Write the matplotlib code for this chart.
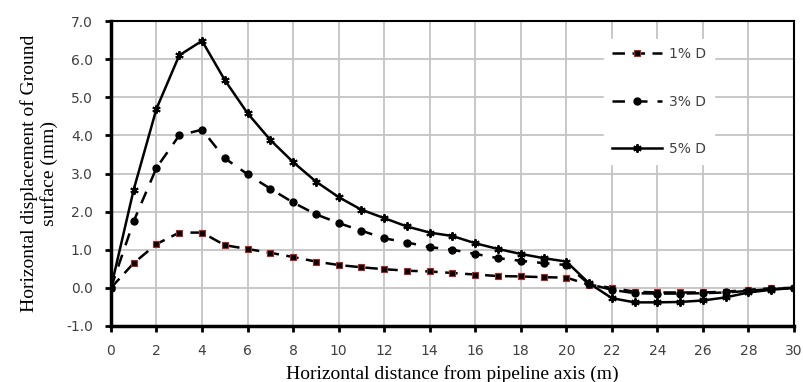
import numpy as np
import matplotlib.pyplot as plt

x = list(range(0, 31))
d1 = [0, 0.65, 1.15, 1.45, 1.45, 1.12, 1.02, 0.92, 0.81, 0.69, 0.60, 0.54, 0.49, 0.45, 0.43,
      0.39, 0.35, 0.31, 0.30, 0.28, 0.27, 0.08, 0.0, -0.10, -0.12, -0.12, -0.12, -0.10, -0.05,
      -0.01, 0.0]
d3 = [0, 1.75, 3.15, 4.0, 4.15, 3.4, 2.98, 2.6, 2.24, 1.93, 1.70, 1.50, 1.30, 1.19, 1.07,
      1.0, 0.89, 0.78, 0.71, 0.65, 0.60, 0.10, -0.05, -0.14, -0.15, -0.15, -0.14, -0.12, -0.08,
      -0.03, 0.0]
d5 = [0, 2.58, 4.7, 6.1, 6.48, 5.45, 4.58, 3.88, 3.3, 2.79, 2.38, 2.05, 1.83, 1.61, 1.45,
      1.36, 1.17, 1.02, 0.89, 0.78, 0.69, 0.12, -0.27, -0.38, -0.38, -0.37, -0.33, -0.25, -0.12,
      -0.05, 0.0]
labels = ["1% D", "3% D", "5% D"]

fig = plt.figure(figsize=(8.04, 3.82), dpi=100)
ax = fig.add_axes([0.138, 0.1466, 0.8496, 0.7984])

ax.plot(x, d1, color="black", lw=1.8, dashes=(5, 3), marker="s", ms=5,
        mfc="black", mec="#b22222", mew=0.8, label=labels[0])
ax.plot(x, d3, color="black", lw=1.8, dashes=(5, 4), marker="o", ms=5,
        mfc="black", mec="black", label=labels[1])
ax.plot(x, d5, color="black", lw=1.8, marker=(6, 2, 0), ms=6, mew=1.4,
        mfc="black", mec="black", label=labels[2])

ax.set_xlim(0, 30)
ax.set_ylim(-1, 7)
ax.set_xticks(np.arange(0, 31, 2))
ax.set_yticks(np.arange(-1, 7.1, 1))
ax.set_yticklabels(["%.1f" % v for v in np.arange(-1, 7.1, 1)])
ax.grid(True, color="#c4c4c4", lw=1.3)
ax.set_axisbelow(True)

for s in ["left", "bottom"]:
    ax.spines[s].set_linewidth(2.5)
for s in ["top", "right"]:
    ax.spines[s].set_linewidth(1.5)
ax.tick_params(axis="both", direction="out", length=4, width=2, labelsize=10,
               labelcolor="#404040", pad=9)

ax.set_xlabel("Horizontal distance from pipeline axis (m)", family="Liberation Serif",
              fontsize=14, labelpad=5)
ax.set_ylabel("Horizontal displacement of Ground\nsurface (mm)", family="Liberation Serif",
              fontsize=14, labelpad=6, linespacing=1.15)

leg = ax.legend(loc="upper left", bbox_to_anchor=(0.711, 0.964), frameon=True,
                fancybox=False, edgecolor="white", framealpha=1, fontsize=10,
                labelspacing=2.4, handlelength=3.6, handletextpad=0.5, borderpad=0.6)
for t in leg.get_texts():
    t.set_color("#404040")

fig.savefig("out.png", dpi=100)
